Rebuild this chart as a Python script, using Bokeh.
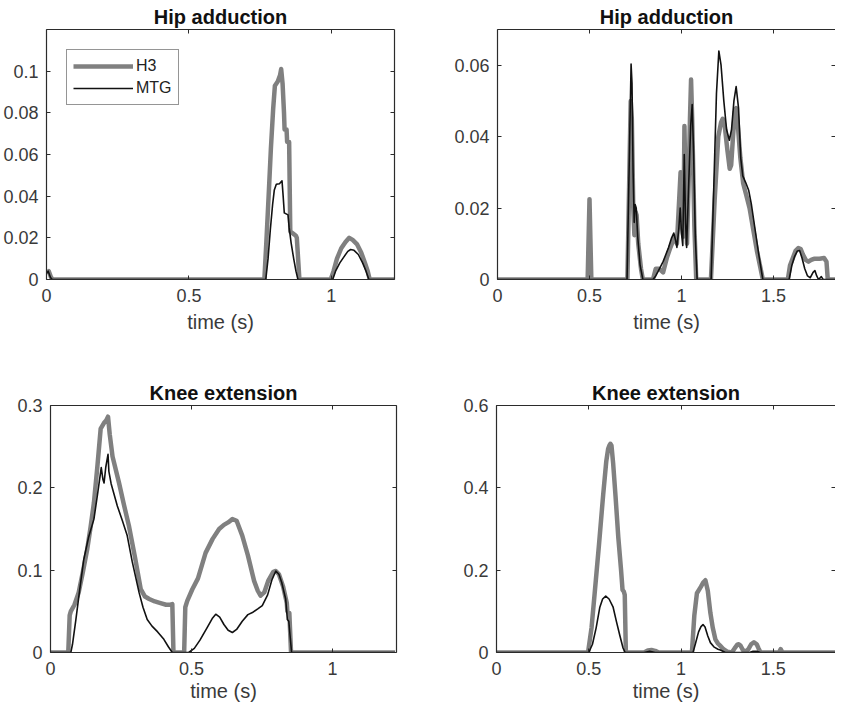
from bokeh.plotting import figure
from bokeh.models import Range1d, LinearAxis, FixedTicker, Legend, LegendItem
from bokeh.layouts import column, row
from bokeh.embed import file_html
from bokeh.resources import INLINE

# ---------------- data ----------------
TITLE_HIP = "Hip adduction"
TITLE_KNEE = "Knee extension"
XLABEL = "time (s)"
SERIES_NAMES = ["H3", "MTG"]

x_ticks_left = [0, 0.5, 1]
x_labels_left = ["0", "0.5", "1"]
x_ticks_right = [0, 0.5, 1, 1.5]
x_labels_right = ["0", "0.5", "1", "1.5"]

# top-left: hip adduction
a_y_ticks = [0, 0.02, 0.04, 0.06, 0.08, 0.1]
a_y_labels = ["0", "0.02", "0.04", "0.06", "0.08", "0.1"]
a_h3_t = [0, 0.008, 0.016, 0.022, 0.765, 0.772, 0.780, 0.788, 0.796, 0.802, 0.812, 0.820, 0.824, 0.829,
          0.834, 0.836, 0.843, 0.845, 0.852, 0.856, 0.866, 0.876, 0.879, 0.888, 0.998, 1.008, 1.02, 1.035,
          1.05, 1.063, 1.075, 1.09, 1.105, 1.118, 1.128, 1.135, 1.222]
a_h3_y = [0.003, 0.004, 0.001, 0, 0, 0.018, 0.040, 0.063, 0.082, 0.093, 0.095, 0.098, 0.101, 0.094,
          0.080, 0.072, 0.072, 0.066, 0.066, 0.023, 0.022, 0.021, 0.020, 0, 0, 0.004, 0.010, 0.015,
          0.018, 0.020, 0.019, 0.017, 0.013, 0.008, 0.004, 0, 0]
a_mtg_t = [0, 0.006, 0.014, 0.02, 0.77, 0.778, 0.786, 0.794, 0.800, 0.807, 0.818, 0.827, 0.831, 0.835,
           0.848, 0.852, 0.859, 0.868, 0.876, 0.883, 1.005, 1.015, 1.03, 1.045, 1.058, 1.068, 1.08,
           1.095, 1.11, 1.122, 1.132, 1.222]
a_mtg_y = [0.003, 0.004, 0.001, 0, 0, 0.010, 0.024, 0.036, 0.043, 0.0457, 0.046, 0.0474, 0.040, 0.032,
           0.031, 0.025, 0.0176, 0.010, 0.004, 0, 0, 0.004, 0.008, 0.011, 0.0135, 0.0144, 0.014,
           0.012, 0.008, 0.004, 0, 0]

# top-right: hip adduction
b_y_ticks = [0, 0.02, 0.04, 0.06]
b_y_labels = ["0", "0.02", "0.04", "0.06"]
b_h3_t = [0, 0.49, 0.50, 0.51, 0.706, 0.716, 0.724, 0.730, 0.738, 0.744, 0.750, 0.756, 0.765, 0.780, 0.790,
          0.845, 0.86, 0.88, 0.90, 0.92, 0.94, 0.955, 0.965, 0.975, 0.985, 0.995, 1.002, 1.010, 1.016,
          1.022, 1.030, 1.040, 1.046, 1.052, 1.058, 1.070, 1.080,
          1.160, 1.180, 1.200, 1.215, 1.224, 1.235, 1.250, 1.262, 1.270, 1.280, 1.290, 1.297, 1.305,
          1.320, 1.335, 1.350, 1.370, 1.390, 1.410, 1.430, 1.442,
          1.578, 1.590, 1.605, 1.620, 1.635, 1.648, 1.660, 1.675, 1.690, 1.705, 1.720, 1.750, 1.775,
          1.788, 1.795, 1.88]
b_h3_y = [0, 0, 0.0225, 0, 0, 0.028, 0.050, 0.045, 0.020, 0.0124, 0.019, 0.018, 0.010, 0.003, 0,
          0, 0.003, 0.003, 0.002, 0.006, 0.009, 0.011, 0.012, 0.010, 0.020, 0.030, 0.015, 0.012, 0.043,
          0.025, 0.010, 0.030, 0.045, 0.056, 0.045, 0.015, 0,
          0, 0.022, 0.040, 0.044, 0.045, 0.043, 0.036, 0.031, 0.032, 0.040, 0.047, 0.048, 0.044,
          0.034, 0.027, 0.024, 0.020, 0.014, 0.008, 0.003, 0,
          0, 0.004, 0.006, 0.008, 0.0088, 0.0085, 0.007, 0.0055, 0.005, 0.0055, 0.0058, 0.0058, 0.006,
          0.005, 0, 0]
b_mtg_t = [0, 0.704, 0.715, 0.726, 0.731, 0.737, 0.743, 0.748, 0.754, 0.762, 0.775, 0.790,
           0.845, 0.86, 0.88, 0.90, 0.915, 0.93, 0.945, 0.958, 0.968, 0.975, 0.985, 0.993, 1.000, 1.007,
           1.015, 1.022, 1.028, 1.040, 1.050, 1.058, 1.066, 1.075, 1.085,
           1.161, 1.175, 1.190, 1.203, 1.215, 1.230, 1.245, 1.260, 1.272, 1.285, 1.297, 1.310, 1.322,
           1.333, 1.350, 1.365, 1.380, 1.400, 1.420, 1.442,
           1.585, 1.600, 1.615, 1.630, 1.642, 1.655, 1.670, 1.685, 1.700, 1.715, 1.725, 1.735, 1.745,
           1.760, 1.770, 1.88]
b_mtg_y = [0, 0, 0.030, 0.0603, 0.055, 0.030, 0.016, 0.021, 0.020, 0.012, 0.004, 0,
           0, 0.001, 0.003, 0.005, 0.007, 0.009, 0.0115, 0.013, 0.011, 0.009, 0.014, 0.020, 0.013, 0.0095,
           0.035, 0.016, 0.009, 0.028, 0.043, 0.049, 0.035, 0.012, 0,
           0, 0.025, 0.052, 0.064, 0.060, 0.050, 0.042, 0.039, 0.042, 0.050, 0.054, 0.048, 0.034,
           0.029, 0.027, 0.025, 0.021, 0.014, 0.007, 0,
           0, 0.004, 0.0065, 0.008, 0.0081, 0.006, 0.003, 0.001, 0.0005, 0.002, 0.0025, 0.001, 0,
           0.0008, 0, 0]

# bottom-left: knee extension
c_y_ticks = [0, 0.1, 0.2, 0.3]
c_y_labels = ["0", "0.1", "0.2", "0.3"]
c_h3_t = [0, 0.063, 0.068, 0.072, 0.085, 0.10, 0.115, 0.13, 0.142, 0.154, 0.166, 0.178, 0.19, 0.198,
          0.204, 0.21, 0.22, 0.243, 0.26, 0.278, 0.30, 0.32, 0.335, 0.35, 0.37, 0.39, 0.41, 0.425, 0.432,
          0.436, 0.474, 0.478, 0.485, 0.503, 0.523, 0.55, 0.575, 0.598, 0.615, 0.63, 0.645, 0.66, 0.68,
          0.70, 0.722, 0.735, 0.745, 0.758, 0.772, 0.79, 0.799, 0.81, 0.825, 0.838, 0.84, 0.847, 0.853,
          1.222]
c_h3_y = [0, 0, 0.045, 0.05, 0.058, 0.073, 0.098, 0.125, 0.152, 0.182, 0.225, 0.272, 0.279, 0.282,
          0.2864, 0.265, 0.238, 0.206, 0.18, 0.154, 0.115, 0.077, 0.068, 0.065, 0.062, 0.06, 0.058, 0.058,
          0.0587, 0, 0, 0.055, 0.0627, 0.0768, 0.090, 0.121, 0.138, 0.15, 0.155, 0.158, 0.162, 0.160,
          0.142, 0.118, 0.087, 0.075, 0.069, 0.073, 0.087, 0.098, 0.099, 0.095, 0.080, 0.06, 0.05, 0.048,
          0, 0]
c_mtg_t = [0, 0.072, 0.078, 0.09, 0.105, 0.118, 0.135, 0.154, 0.168, 0.18, 0.186, 0.19, 0.196, 0.204,
           0.207, 0.215, 0.237, 0.255, 0.272, 0.29, 0.314, 0.328, 0.343, 0.36, 0.38, 0.402, 0.418, 0.432,
           0.49, 0.51, 0.53, 0.555, 0.575, 0.586, 0.60, 0.615, 0.63, 0.645, 0.66, 0.68, 0.70, 0.716,
           0.735, 0.751, 0.77, 0.785, 0.799, 0.81, 0.82, 0.834, 0.84, 0.845, 0.855, 1.222]
c_mtg_y = [0, 0, 0.01, 0.04, 0.08, 0.113, 0.14, 0.162, 0.195, 0.2245, 0.21, 0.206, 0.225, 0.2407,
           0.22, 0.205, 0.178, 0.16, 0.142, 0.11, 0.073, 0.055, 0.040, 0.032, 0.025, 0.016, 0.007, 0,
           0, 0.005, 0.015, 0.03, 0.042, 0.0465, 0.043, 0.034, 0.027, 0.0243, 0.028, 0.038, 0.046,
           0.0485, 0.053, 0.057, 0.07, 0.088, 0.099, 0.095, 0.085, 0.065, 0.04, 0.038, 0, 0]

# bottom-right: knee extension
d_y_ticks = [0, 0.2, 0.4, 0.6]
d_y_labels = ["0", "0.2", "0.4", "0.6"]
d_h3_t = [0, 0.496, 0.515, 0.532, 0.555, 0.578, 0.595, 0.605, 0.612, 0.617, 0.623, 0.632, 0.645, 0.66,
          0.675, 0.683, 0.690, 0.695, 0.701, 0.80, 0.82, 0.84, 0.86, 0.88, 1.059, 1.072, 1.086, 1.108,
          1.12, 1.132, 1.145, 1.159, 1.172, 1.186, 1.2, 1.213, 1.23, 1.25, 1.275, 1.29, 1.305, 1.313,
          1.322, 1.335, 1.35, 1.365, 1.38, 1.395, 1.41, 1.42, 1.431, 1.53, 1.54, 1.55, 1.89]
d_h3_y = [0, 0, 0.06, 0.144, 0.26, 0.383, 0.465, 0.495, 0.503, 0.507, 0.503, 0.46, 0.38, 0.28,
          0.2, 0.152, 0.148, 0.14, 0, 0, 0.005, 0.006, 0.004, 0, 0, 0.09, 0.144, 0.16,
          0.17, 0.1755, 0.15, 0.096, 0.06, 0.032, 0.022, 0.016, 0.008, 0.002, 0, 0.01, 0.019, 0.02,
          0.017, 0.006, 0.002, 0.008, 0.02, 0.025, 0.02, 0.01, 0, 0, 0.008, 0, 0]
d_mtg_t = [0, 0.50, 0.52, 0.54, 0.56, 0.575, 0.592, 0.61, 0.632, 0.65, 0.669, 0.685, 0.697, 0.80,
           0.83, 0.86, 1.065, 1.08, 1.095, 1.108, 1.119, 1.13, 1.145, 1.159, 1.18, 1.2, 1.213, 1.24,
           1.37, 1.39, 1.41, 1.43, 1.89]
d_mtg_y = [0, 0, 0.02, 0.06, 0.11, 0.13, 0.137, 0.13, 0.11, 0.075, 0.04, 0.012, 0, 0,
           0.003, 0, 0, 0.025, 0.05, 0.063, 0.0678, 0.062, 0.04, 0.024, 0.013, 0.008, 0.006, 0,
           0, 0.003, 0.003, 0, 0]

# ---------------- styling ----------------
FONT = "Liberation Sans"
H3_COLOR = "#808080"
MTG_COLOR = "#111111"
AX_COLOR = "#2b2b2b"
TICK_LABEL_COLOR = "#3a3a3a"


def style_axis(ax, ticks, labels, show_labels=True, show_line=True):
    ax.ticker = FixedTicker(ticks=ticks)
    ax.minor_tick_in = 0
    ax.minor_tick_out = 0
    ax.major_tick_in = 4
    ax.major_tick_out = 0
    ax.major_tick_line_color = AX_COLOR
    ax.axis_line_color = AX_COLOR if show_line else None
    ax.axis_line_width = 1.2
    ax.major_label_text_font = FONT
    ax.major_label_text_color = TICK_LABEL_COLOR
    if show_labels:
        ax.major_label_overrides = {t: l for t, l in zip(ticks, labels)}
        ax.major_label_text_font_size = "18px"
    else:
        ax.major_label_overrides = {t: "" for t in ticks}
        ax.major_label_text_font_size = "1px"
        ax.major_label_standoff = 0


def panel(title, x_end, xt, xl, y_end, yt, yl, series, width, height, mbl, mbr, mbt, mbb,
          right_line=True, legend=False, xlabel_standoff=2):
    p = figure(width=width, height=height, x_range=Range1d(0, x_end), y_range=Range1d(0, y_end),
               output_backend="svg", toolbar_location=None,
               min_border_left=mbl, min_border_right=mbr, min_border_top=mbt, min_border_bottom=mbb)
    p.outline_line_color = None
    p.xgrid.visible = False
    p.ygrid.visible = False
    p.background_fill_color = "white"
    p.border_fill_color = "white"

    p.title.text = title
    p.title.align = "center"
    p.title.text_font = FONT
    p.title.text_font_size = "20px"
    p.title.text_font_style = "bold"
    p.title.text_color = "#111111"
    p.title.standoff = 4

    xa = p.xaxis[0]
    style_axis(xa, xt, xl)
    xa.major_label_standoff = 9
    xa.axis_label = XLABEL
    xa.axis_label_text_font = FONT
    xa.axis_label_text_font_size = "20px"
    xa.axis_label_text_font_style = "normal"
    xa.axis_label_text_color = TICK_LABEL_COLOR
    xa.axis_label_standoff = xlabel_standoff

    ya = p.yaxis[0]
    style_axis(ya, yt, yl)
    ya.major_label_standoff = 8

    top = LinearAxis()
    style_axis(top, xt, xl, show_labels=False)
    p.add_layout(top, "above")
    right = LinearAxis()
    style_axis(right, yt, yl, show_labels=False, show_line=right_line)
    p.add_layout(right, "right")

    renderers = []
    for (t, y, color, lw) in series:
        r = p.line(t, y, line_color=color, line_width=lw, line_join="round")
        renderers.append(r)

    if legend:
        lg = Legend(items=[LegendItem(label=SERIES_NAMES[0], renderers=[renderers[0]]),
                           LegendItem(label=SERIES_NAMES[1], renderers=[renderers[1]])],
                    location="top_left")
        lg.margin = 20
        lg.padding = 6
        lg.spacing = 2
        lg.glyph_width = 60
        lg.glyph_height = 20
        lg.label_height = 20
        lg.label_standoff = 3
        lg.label_text_font = FONT
        lg.label_text_font_size = "16px"
        lg.label_text_color = "#222222"
        lg.border_line_color = AX_COLOR
        lg.border_line_width = 1.2
        lg.background_fill_color = "white"
        lg.background_fill_alpha = 1.0
        p.add_layout(lg)
    return p


p1 = panel(TITLE_HIP, 1.222, x_ticks_left, x_labels_left, 0.12, a_y_ticks, a_y_labels,
           [(a_h3_t, a_h3_y, H3_COLOR, 4.5), (a_mtg_t, a_mtg_y, MTG_COLOR, 1.6)],
           450, 356, 44, 56, 29, 77, legend=True, xlabel_standoff=6)
p2 = panel(TITLE_HIP, 1.837, x_ticks_right, x_labels_right, 0.07, b_y_ticks, b_y_labels,
           [(b_h3_t, b_h3_y, H3_COLOR, 4.5), (b_mtg_t, b_mtg_y, MTG_COLOR, 1.6)],
           385, 356, 47, 0, 29, 77, right_line=False, xlabel_standoff=6)
p3 = panel(TITLE_KNEE, 1.227, x_ticks_left, x_labels_left, 0.3, c_y_ticks, c_y_labels,
           [(c_h3_t, c_h3_y, H3_COLOR, 4.5), (c_mtg_t, c_mtg_y, MTG_COLOR, 1.6)],
           450, 352, 50, 54, 49, 56)
p4 = panel(TITLE_KNEE, 1.837, x_ticks_right, x_labels_right, 0.6, d_y_ticks, d_y_labels,
           [(d_h3_t, d_h3_y, H3_COLOR, 4.5), (d_mtg_t, d_mtg_y, MTG_COLOR, 1.6)],
           385, 352, 46, 0, 49, 56, right_line=False)

layout = column(row(p1, p2), row(p3, p4))
open("out.html", "w").write(file_html(layout, INLINE))
